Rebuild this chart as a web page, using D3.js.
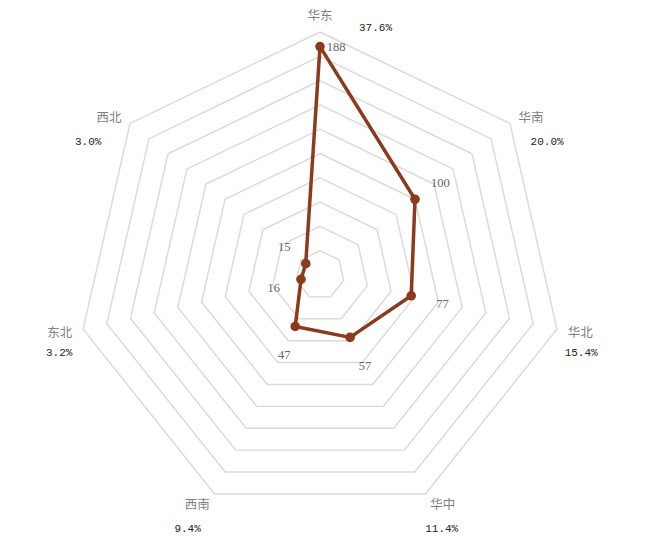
<!DOCTYPE html>
<html>
<head>
<meta charset="utf-8">
<script src="https://cdn.jsdelivr.net/npm/d3@7"></script>
<style>
  html, body { margin: 0; padding: 0; background: #fff; }
  svg { display: block; }
</style>
</head>
<body>
<svg id="chart" width="650" height="539"></svg>
<script>
// ---- data ----
const categories = ["华东", "华南", "华北", "华中", "西南", "东北", "西北"];
const values = [188, 100, 77, 57, 47, 16, 15];
const shares = ["37.6%", "20.0%", "15.4%", "11.4%", "9.4%", "3.2%", "3.0%"];
const gridLevels = [20, 40, 60, 80, 100, 120, 140, 160, 180, 200];
const maxValue = 200;

// ---- layout ----
const cx = 320, cy = 275, R = 243;
const color = "#8b3a1c";

const svg = d3.select("#chart");
const g = svg.append("g").attr("transform", `translate(${cx},${cy})`);

const angle = d3.scalePoint().domain(categories).range([0, 2 * Math.PI * (categories.length - 1) / categories.length]);
const rScale = d3.scaleLinear().domain([0, maxValue]).range([0, R]);

const pt = (cat, r) => {
  const a = angle(cat);
  return [r * Math.sin(a), -r * Math.cos(a)];
};

// grid rings
const ringLine = d3.line().curve(d3.curveLinearClosed);
g.append("g").selectAll("path").data(gridLevels).join("path")
  .attr("d", lv => ringLine(categories.map(c => pt(c, rScale(lv)))))
  .attr("fill", "none")
  .attr("stroke", "#d9d9d9")
  .attr("stroke-width", 1.4);

// series line
const data = categories.map((c, i) => ({ cat: c, v: values[i] }));
const radarLine = d3.lineRadial()
  .angle(d => angle(d.cat))
  .radius(d => rScale(d.v))
  .curve(d3.curveLinearClosed);

g.append("path")
  .datum(data)
  .attr("d", radarLine)
  .attr("fill", "none")
  .attr("stroke", color)
  .attr("stroke-width", 3.5)
  .attr("stroke-linejoin", "round");

g.append("g").selectAll("circle").data(data).join("circle")
  .attr("cx", d => pt(d.cat, rScale(d.v))[0])
  .attr("cy", d => pt(d.cat, rScale(d.v))[1])
  .attr("r", 4.8)
  .attr("fill", color);

// value labels
g.append("g").selectAll("text").data(data).join("text")
  .each(function(d) {
    const r = rScale(d.v);
    let x, y;
    if (r + 28 > R) {
      const p = pt(d.cat, r);
      x = p[0] + 16; y = p[1];
    } else {
      const p = pt(d.cat, r + 30);
      x = p[0] + 2; y = p[1] + 2;
    }
    d3.select(this).attr("x", x).attr("y", y);
  })
  .attr("text-anchor", "middle")
  .attr("dominant-baseline", "central")
  .attr("font-family", "'Liberation Serif', 'DejaVu Serif', serif")
  .attr("font-size", 12.5)
  .attr("fill", "#666666")
  .text(d => d.v);

// category names + shares
const nameG = g.append("g");
categories.forEach((c, i) => {
  const a = angle(c);
  const s = Math.sin(a), co = Math.cos(a);
  const p = pt(c, R + 11);
  let anchor = "middle", x = p[0], y = p[1];
  if (Math.abs(s) < 0.05) {
    y = p[1] - 7;
  } else if (s > 0) { anchor = "start"; }
  else { anchor = "end"; }
  nameG.append("text")
    .attr("x", x).attr("y", y)
    .attr("text-anchor", anchor)
    .attr("dominant-baseline", "central")
    .attr("font-family", "'Noto Sans CJK SC', sans-serif")
    .attr("font-size", 12.5)
    .attr("fill", "#7f7f7f")
    .text(c);

  // share label
  let px, py, panchor = anchor;
  if (Math.abs(s) < 0.05) {
    px = x + 39; py = y + 14; panchor = "start";
  } else if (co > 0.5) {
    px = x + (s > 0 ? 12 : -20);
    py = y + 25.5;
  } else if (co < -0.5) {
    px = x + (s > 0 ? -5 : -9);
    py = y + 25.5;
  } else {
    px = x + (s > 0 ? -3 : 0);
    py = y + 21;
  }
  nameG.append("text")
    .attr("x", px).attr("y", py)
    .attr("text-anchor", panchor)
    .attr("dominant-baseline", "central")
    .attr("font-family", "'Liberation Mono', 'DejaVu Sans Mono', monospace")
    .attr("font-size", 11)
    .attr("fill", "#222")
    .text(shares[i]);
});
</script>
</body>
</html>
